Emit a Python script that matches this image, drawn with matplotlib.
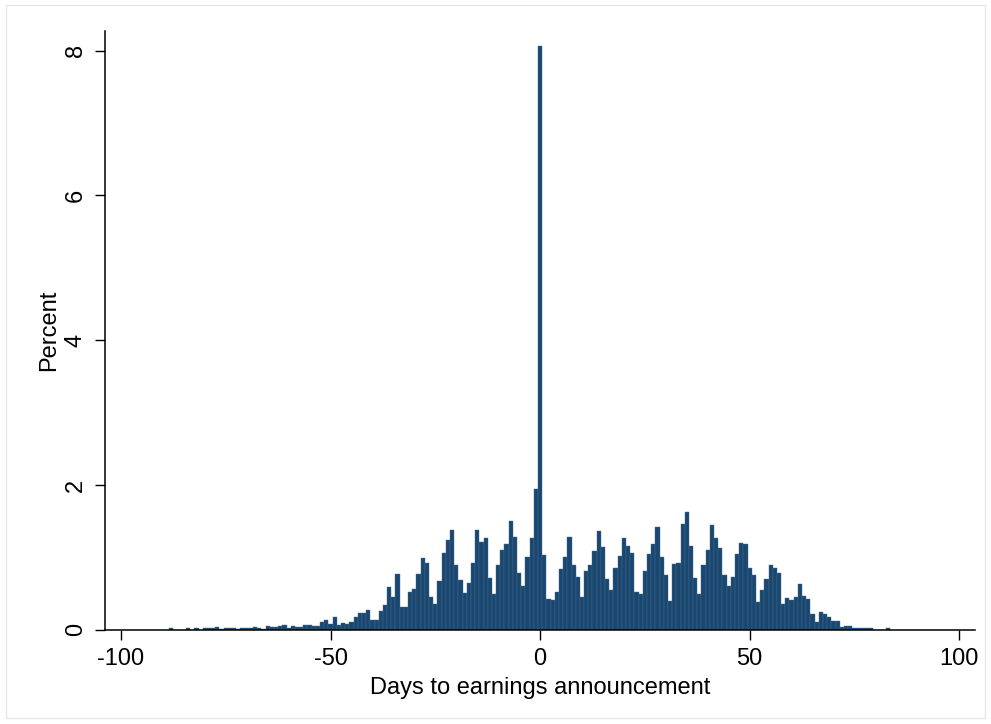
import numpy as np
import matplotlib.pyplot as plt
from matplotlib.patches import Rectangle

plt.rcParams['font.family'] = ['Liberation Sans', 'DejaVu Sans']

# days relative to the earnings announcement (one bar per day)
days = np.arange(-88, 84)

pct_pre = [
    0.023, 0, 0, 0, 0.023, 0, 0.023, 0, 0.028, 0.028,        # -88 .. -79
    0.028, 0.04, 0.018, 0.023, 0.023, 0.023, 0.01, 0.02, 0.02, 0.028,  # -78 .. -69
    0.036, 0.025, 0.018, 0.05, 0.04, 0.035, 0.05, 0.062, 0.022, 0.058,  # -68 .. -59
    0.046, 0.046, 0.072, 0.072, 0.05, 0.05, 0.115, 0.14, 0.085, 0.18,  # -58 .. -49
    0.07, 0.09, 0.08, 0.11, 0.18, 0.24, 0.23, 0.27, 0.13, 0.13,      # -48 .. -39
    0.26, 0.35, 0.59, 0.45, 0.77, 0.32, 0.32, 0.52, 0.56, 0.77,      # -38 .. -29
    0.99, 0.93, 0.46, 0.36, 0.68, 1.06, 1.24, 1.38, 0.89, 0.69,      # -28 .. -19
    0.51, 0.65, 0.93, 1.38, 1.22, 1.27, 0.71, 0.50, 0.90, 1.10,      # -18 .. -9
    1.19, 1.50, 1.28, 0.79, 0.61, 1.01, 1.27, 1.95,                  # -8 .. -1
]
pct_day0 = [8.07]
pct_post = [
    1.04, 0.43, 0.41, 0.53, 0.84, 1.01, 1.28, 0.89, 0.73, 0.45,      # 1 .. 10
    0.81, 0.90, 1.09, 1.36, 1.15, 0.70, 0.55, 0.86, 1.02, 1.27,      # 11 .. 20
    1.16, 1.06, 0.52, 0.49, 0.81, 1.05, 1.19, 1.42, 1.00, 0.76,      # 21 .. 30
    0.40, 0.91, 0.93, 1.46, 1.63, 1.16, 0.72, 0.50, 0.89, 1.10,      # 31 .. 40
    1.45, 1.27, 1.13, 0.76, 0.61, 0.73, 1.05, 1.20, 1.19, 0.85,      # 41 .. 50
    0.76, 0.39, 0.55, 0.70, 0.89, 0.86, 0.78, 0.36, 0.44, 0.41,      # 51 .. 60
    0.45, 0.63, 0.47, 0.43, 0.22, 0.11, 0.25, 0.22, 0.18, 0.12,      # 61 .. 70
    0.12, 0.04, 0.05, 0.05, 0.02, 0.02, 0.02, 0.03, 0.03, 0,         # 71 .. 80
    0, 0, 0.03,                                                      # 81 .. 83
]
percent = np.array(pct_pre + pct_day0 + pct_post)

xticks = [-100, -50, 0, 50, 100]
yticks = [0, 2, 4, 6, 8]

fig = plt.figure(figsize=(9.91, 7.24), dpi=100)
ax = fig.add_axes([0.106, 0.13, 0.878, 0.827])

ax.bar(days, percent, width=1.0, color='#1a476f', edgecolor='#466a8c',
       linewidth=0.3, align='center')

ax.set_xlim(-103.8, 103.8)
ax.set_ylim(0, 8.27)
ax.set_xticks(xticks)
ax.set_yticks(yticks)
ax.set_xticklabels([str(t) for t in xticks])
ax.set_yticklabels([str(t) for t in yticks], rotation=90, va='center')

for s in ['top', 'right']:
    ax.spines[s].set_visible(False)
for s in ['left', 'bottom']:
    ax.spines[s].set_linewidth(1.1)
    ax.spines[s].set_color('black')

ax.tick_params(axis='both', direction='out', length=7.2, width=1.0,
               labelsize=17, colors='black')
ax.tick_params(axis='x', pad=6)
ax.tick_params(axis='y', pad=6)

ax.set_xlabel('Days to earnings announcement', fontsize=17, labelpad=5)
ax.set_ylabel('Percent', fontsize=17, labelpad=3)

# faint frame around the whole graph
fig.patches.append(Rectangle((6 / 991, 6 / 724), 979 / 991, 713 / 724,
                             transform=fig.transFigure, fill=False,
                             edgecolor='#e6e6e6', linewidth=1.0))

fig.savefig('out.png', dpi=100)
